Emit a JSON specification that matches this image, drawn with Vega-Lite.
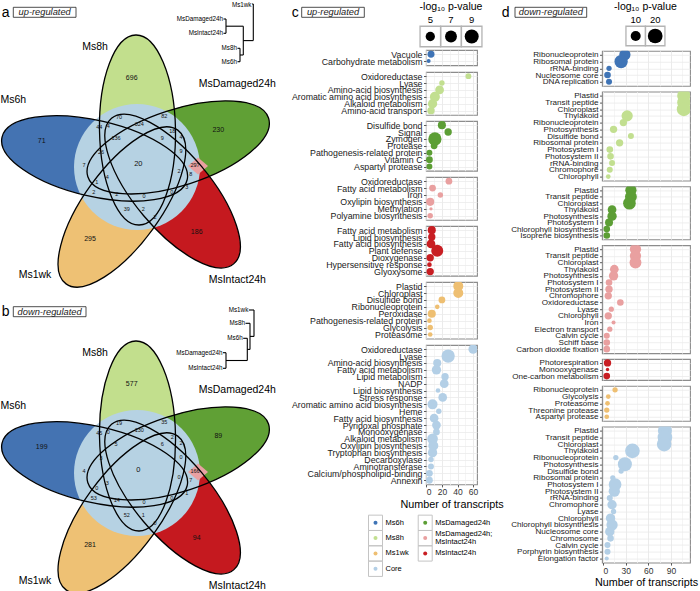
{
"$schema": "https://vega.github.io/schema/vega-lite/v6.json",
"padding": 0,
"background": "white",
"bounds": "flush",
"spacing": 0,
"resolve": {"scale": {"size": "independent"}},
"config": {
  "font": "Liberation Sans",
  "view": {"stroke": null},
  "axis": {"domain": false, "grid": true, "gridColor": "#ebebeb", "gridWidth": 0.8, "tickColor": "#333333", "tickSize": 2.5, "tickWidth": 0.8, "labelColor": "#1a1a1a", "titleFontWeight": "normal", "titleColor": "#000000"},
  "axisY": {"labelPadding": 1.5, "labelOverlap": false, "labelLimit": 400},
  "axisX": {"labelFontSize": 8.5, "labelPadding": 1, "titleFontSize": 10.8, "titlePadding": 2, "labelColor": "#333333"}
},
"datasets": {
  "ell": [
    {"set": "Ms6h", "x": -45.4, "y": -7.6, "ang": 193},
    {"set": "Ms8h", "x": -2.5, "y": -36, "ang": 269},
    {"set": "MsDamaged24h", "x": 38.2, "y": -18.6, "ang": 342},
    {"set": "MsIntact24h", "x": 32.6, "y": 25.1, "ang": 50},
    {"set": "Ms1wk", "x": -18.1, "y": 41, "ang": 126}
  ],
  "core": [{"x": -3, "y": 1}],
  "pink": [{"x": 58, "y": 0}],
  "venn": [
    {"x": -8.3, "y": -87.7, "k": "L", "a": "696", "b": "577"},
    {"x": 78.3, "y": -36, "k": "L", "a": "230", "b": "89"},
    {"x": -98.3, "y": -25.3, "k": "L", "a": "71", "b": "199"},
    {"x": -50, "y": 73.3, "k": "L", "a": "295", "b": "281"},
    {"x": 56.7, "y": 65.7, "k": "L", "a": "186", "b": "94"},
    {"x": -21, "y": -49.3, "k": "I", "a": "70", "b": "19"},
    {"x": 24.3, "y": -50, "k": "I", "a": "82", "b": "35"},
    {"x": -40.7, "y": -38.7, "k": "I", "a": "44", "b": "45"},
    {"x": -31.7, "y": -40, "k": "I", "a": "4", "b": "0"},
    {"x": -0.7, "y": -42, "k": "I", "a": "324", "b": "130"},
    {"x": 32.3, "y": -35, "k": "I", "a": "18", "b": "2"},
    {"x": 41, "y": -29.3, "k": "I", "a": "4", "b": "2"},
    {"x": -24, "y": -27.7, "k": "I", "a": "136", "b": "5"},
    {"x": 22.3, "y": -28.3, "k": "I", "a": "9", "b": "6"},
    {"x": -39, "y": -14.3, "k": "I", "a": "26", "b": "3"},
    {"x": 41, "y": -15, "k": "I", "a": "9", "b": "0"},
    {"x": -56, "y": -1, "k": "I", "a": "7", "b": "4"},
    {"x": -1.7, "y": -2, "k": "C", "a": "20", "b": "0"},
    {"x": 55, "y": -1, "k": "I", "a": "297", "b": "166"},
    {"x": 39, "y": 4.7, "k": "I", "a": "2", "b": "0"},
    {"x": 50.7, "y": 8, "k": "I", "a": "8", "b": "7"},
    {"x": -43.3, "y": 15.7, "k": "I", "a": "1", "b": "0"},
    {"x": -32.7, "y": 11.3, "k": "I", "a": "4", "b": "3"},
    {"x": 46.7, "y": 21.3, "k": "I", "a": "3", "b": "1"},
    {"x": -46.3, "y": 25.7, "k": "I", "a": "2", "b": "53"},
    {"x": -23.3, "y": 28.3, "k": "I", "a": "2", "b": "14"},
    {"x": 4, "y": 29.7, "k": "I", "a": "0", "b": "0"},
    {"x": 31.7, "y": 26.3, "k": "I", "a": "0", "b": "0"},
    {"x": -13.3, "y": 43.3, "k": "I", "a": "39", "b": "52"},
    {"x": 3.3, "y": 43, "k": "I", "a": "2", "b": "1"},
    {"x": 15, "y": 50.7, "k": "I", "a": "2", "b": "0"}
  ],
  "setlab": [
    {"x": -45, "y": -119.3, "t": "Ms8h"},
    {"x": 97.3, "y": -81.7, "t": "MsDamaged24h"},
    {"x": -126.7, "y": -66, "t": "Ms6h"},
    {"x": -105, "y": 109, "t": "Ms1wk"},
    {"x": 97.3, "y": 114, "t": "MsIntact24h"}
  ],
  "dendA": [
    {"x": 112, "y": -162, "x2": 113.3, "y2": -162},
    {"x": 113.3, "y": -162, "x2": 113.3, "y2": -125.4},
    {"x": 83.5, "y": -147, "x2": 86, "y2": -147},
    {"x": 83.5, "y": -132.7, "x2": 86, "y2": -132.7},
    {"x": 86, "y": -147, "x2": 86, "y2": -132.7},
    {"x": 86, "y": -139.8, "x2": 103.3, "y2": -139.8},
    {"x": 97.5, "y": -117.7, "x2": 100, "y2": -117.7},
    {"x": 97.5, "y": -104.3, "x2": 100, "y2": -104.3},
    {"x": 100, "y": -117.7, "x2": 100, "y2": -104.3},
    {"x": 100, "y": -111, "x2": 103.3, "y2": -111},
    {"x": 103.3, "y": -139.8, "x2": 103.3, "y2": -111},
    {"x": 103.3, "y": -125.4, "x2": 113.3, "y2": -125.4}
  ],
  "leafA": [
    {"x": 111.5, "y": -161.5, "t": "Ms1wk"},
    {"x": 83, "y": -147, "t": "MsDamaged24h"},
    {"x": 83, "y": -132.7, "t": "MsIntact24h"},
    {"x": 97, "y": -117.7, "t": "Ms8h"},
    {"x": 97, "y": -104.3, "t": "Ms6h"}
  ],
  "dendB": [
    {"x": 108.8, "y": -162, "x2": 114, "y2": -162},
    {"x": 114, "y": -162, "x2": 114, "y2": -135.6},
    {"x": 105.5, "y": -148.7, "x2": 110, "y2": -148.7},
    {"x": 110, "y": -148.7, "x2": 110, "y2": -122.6},
    {"x": 110, "y": -135.6, "x2": 114, "y2": -135.6},
    {"x": 103.2, "y": -133.7, "x2": 107.3, "y2": -133.7},
    {"x": 107.3, "y": -133.7, "x2": 107.3, "y2": -111.5},
    {"x": 107.3, "y": -122.6, "x2": 110, "y2": -122.6},
    {"x": 83, "y": -119.3, "x2": 86, "y2": -119.3},
    {"x": 83, "y": -103.7, "x2": 86, "y2": -103.7},
    {"x": 86, "y": -119.3, "x2": 86, "y2": -103.7},
    {"x": 86, "y": -111.5, "x2": 107.3, "y2": -111.5}
  ],
  "leafB": [
    {"x": 108.3, "y": -162, "t": "Ms1wk"},
    {"x": 105, "y": -148.7, "t": "Ms8h"},
    {"x": 102.7, "y": -133.7, "t": "Ms6h"},
    {"x": 82.5, "y": -119.3, "t": "MsDamaged24h"},
    {"x": 82.5, "y": -103.7, "t": "MsIntact24h"}
  ],
  "letA": [
    {"x": -138.3, "y": -148.7, "t": "a"},
    {"x": 151.7, "y": -148.7, "t": "c"},
    {"x": 361.7, "y": -148.7, "t": "d"}
  ],
  "boxA": [
    {"x": -126.7, "x2": -64, "y": -158.7, "y2": -148.7},
    {"x": 161.7, "x2": 224.3, "y": -158.7, "y2": -148.7},
    {"x": 375, "x2": 446.7, "y": -158.7, "y2": -148.7}
  ],
  "boxtA": [
    {"x": -95.35, "y": -153.7, "t": "up-regulated"},
    {"x": 193, "y": -153.7, "t": "up-regulated"},
    {"x": 410.85, "y": -153.7, "t": "down-regulated"}
  ],
  "letB": [{"x": -138.3, "y": -156, "t": "b"}],
  "boxB": [{"x": -126.7, "x2": -54, "y": -165.3, "y2": -155.3}],
  "boxtB": [{"x": -90.35, "y": -160.3, "t": "down-regulated"}],
  "legC": [{"v": 5}, {"v": 7}, {"v": 9}],
  "legD": [{"v": 10}, {"v": 20}],
  "colleg": [
    {"g": "Ms6h", "lab": "Ms6h", "col": 0, "row": 0},
    {"g": "Ms8h", "lab": "Ms8h", "col": 0, "row": 1},
    {"g": "Ms1wk", "lab": "Ms1wk", "col": 0, "row": 2},
    {"g": "Core", "lab": "Core", "col": 0, "row": 3},
    {"g": "MsDamaged24h", "lab": "MsDamaged24h", "col": 1, "row": 0},
    {"g": "MsDamaged24h;MsIntact24h", "lab": "MsDamaged24h;\nMsIntact24h", "col": 1, "row": 1},
    {"g": "MsIntact24h", "lab": "MsIntact24h", "col": 1, "row": 2}
  ],
  "c": [
    {"g": "Ms6h", "term": "Vacuole", "n": 6, "p": 3.6},
    {"g": "Ms6h", "term": "Carbohydrate metabolism", "n": 3, "p": 2.4},
    {"g": "Ms8h", "term": "Oxidoreductase", "n": 54, "p": 3.1},
    {"g": "Ms8h", "term": "Lyase", "n": 20, "p": 2.9},
    {"g": "Ms8h", "term": "Amino-acid biosynthesis", "n": 17, "p": 4.6},
    {"g": "Ms8h", "term": "Aromatic amino acid biosynthesis", "n": 11, "p": 5.5},
    {"g": "Ms8h", "term": "Alkaloid metabolism", "n": 8, "p": 5.0},
    {"g": "Ms8h", "term": "Amino-acid transport", "n": 6, "p": 3.8},
    {"g": "MsDamaged24h", "term": "Disulfide bond", "n": 20, "p": 4.2},
    {"g": "MsDamaged24h", "term": "Signal", "n": 28, "p": 3.8},
    {"g": "MsDamaged24h", "term": "Zymogen", "n": 11, "p": 8.3},
    {"g": "MsDamaged24h", "term": "Protease", "n": 10, "p": 3.5},
    {"g": "MsDamaged24h", "term": "Pathogenesis-related protein", "n": 4, "p": 3.1},
    {"g": "MsDamaged24h", "term": "Vitamin C", "n": 4, "p": 3.5},
    {"g": "MsDamaged24h", "term": "Aspartyl protease", "n": 4, "p": 3.1},
    {"g": "MsDamaged24h;MsIntact24h", "term": "Oxidoreductase", "n": 29, "p": 3.5},
    {"g": "MsDamaged24h;MsIntact24h", "term": "Fatty acid metabolism", "n": 8, "p": 3.5},
    {"g": "MsDamaged24h;MsIntact24h", "term": "Iron", "n": 18, "p": 2.9},
    {"g": "MsDamaged24h;MsIntact24h", "term": "Oxylipin biosynthesis", "n": 5, "p": 4.2},
    {"g": "MsDamaged24h;MsIntact24h", "term": "Methylation", "n": 6, "p": 2.2},
    {"g": "MsDamaged24h;MsIntact24h", "term": "Polyamine biosynthesis", "n": 5, "p": 2.9},
    {"g": "MsIntact24h", "term": "Fatty acid metabolism", "n": 7, "p": 4.2},
    {"g": "MsIntact24h", "term": "Lipid biosynthesis", "n": 7, "p": 3.8},
    {"g": "MsIntact24h", "term": "Fatty acid biosynthesis", "n": 6, "p": 4.6},
    {"g": "MsIntact24h", "term": "Plant defense", "n": 14, "p": 7.1},
    {"g": "MsIntact24h", "term": "Dioxygenase", "n": 5, "p": 3.8},
    {"g": "MsIntact24h", "term": "Hypersensitive response", "n": 4, "p": 2.6},
    {"g": "MsIntact24h", "term": "Glyoxysome", "n": 5, "p": 3.8},
    {"g": "Ms1wk", "term": "Plastid", "n": 41, "p": 5.5},
    {"g": "Ms1wk", "term": "Chloroplast", "n": 41, "p": 5.5},
    {"g": "Ms1wk", "term": "Disulfide bond", "n": 20, "p": 3.5},
    {"g": "Ms1wk", "term": "Ribonucleoprotein", "n": 14, "p": 2.6},
    {"g": "Ms1wk", "term": "Peroxidase", "n": 7, "p": 4.2},
    {"g": "Ms1wk", "term": "Pathogenesis-related protein", "n": 4, "p": 2.6},
    {"g": "Ms1wk", "term": "Glycolysis", "n": 5, "p": 2.9},
    {"g": "Ms1wk", "term": "Proteasome", "n": 5, "p": 2.6},
    {"g": "Core", "term": "Oxidoreductase", "n": 60, "p": 5.0},
    {"g": "Core", "term": "Lyase", "n": 28, "p": 8.3},
    {"g": "Core", "term": "Amino-acid biosynthesis", "n": 14, "p": 4.2},
    {"g": "Core", "term": "Fatty acid metabolism", "n": 13, "p": 5.0},
    {"g": "Core", "term": "Lipid metabolism", "n": 24, "p": 3.8},
    {"g": "Core", "term": "NADP", "n": 23, "p": 4.6},
    {"g": "Core", "term": "Lipid biosynthesis", "n": 15, "p": 2.6},
    {"g": "Core", "term": "Stress response", "n": 21, "p": 4.6},
    {"g": "Core", "term": "Aromatic amino acid biosynthesis", "n": 8, "p": 5.5},
    {"g": "Core", "term": "Heme", "n": 16, "p": 2.9},
    {"g": "Core", "term": "Fatty acid biosynthesis", "n": 10, "p": 4.6},
    {"g": "Core", "term": "Pyridoxal phosphate", "n": 13, "p": 4.6},
    {"g": "Core", "term": "Monooxygenase", "n": 13, "p": 3.5},
    {"g": "Core", "term": "Alkaloid metabolism", "n": 8, "p": 6.0},
    {"g": "Core", "term": "Oxylipin biosynthesis", "n": 9, "p": 5.5},
    {"g": "Core", "term": "Tryptophan biosynthesis", "n": 8, "p": 5.0},
    {"g": "Core", "term": "Decarboxylase", "n": 6, "p": 2.9},
    {"g": "Core", "term": "Aminotransferase", "n": 6, "p": 3.1},
    {"g": "Core", "term": "Calcium/phospholipid-binding", "n": 4, "p": 3.5},
    {"g": "Core", "term": "Annexin", "n": 4, "p": 3.5}
  ],
  "d": [
    {"g": "Ms6h", "term": "Ribonucleoprotein", "n": 29, "p": 12.3},
    {"g": "Ms6h", "term": "Ribosomal protein", "n": 24, "p": 16.6},
    {"g": "Ms6h", "term": "rRNA-binding", "n": 8, "p": 3.8},
    {"g": "Ms6h", "term": "Nucleosome core", "n": 6, "p": 5.2},
    {"g": "Ms6h", "term": "DNA replication", "n": 8, "p": 4.5},
    {"g": "Ms8h", "term": "Plastid", "n": 107, "p": 16.6},
    {"g": "Ms8h", "term": "Transit peptide", "n": 107, "p": 16.6},
    {"g": "Ms8h", "term": "Chloroplast", "n": 107, "p": 18.3},
    {"g": "Ms8h", "term": "Thylakoid", "n": 32, "p": 12.3},
    {"g": "Ms8h", "term": "Ribonucleoprotein", "n": 27, "p": 6.0},
    {"g": "Ms8h", "term": "Photosynthesis", "n": 14, "p": 6.0},
    {"g": "Ms8h", "term": "Disulfide bond", "n": 37, "p": 4.5},
    {"g": "Ms8h", "term": "Ribosomal protein", "n": 22, "p": 6.0},
    {"g": "Ms8h", "term": "Photosystem I", "n": 9, "p": 5.2},
    {"g": "Ms8h", "term": "Photosystem II", "n": 10, "p": 5.2},
    {"g": "Ms8h", "term": "rRNA-binding", "n": 12, "p": 4.5},
    {"g": "Ms8h", "term": "Chromophore", "n": 9, "p": 4.5},
    {"g": "Ms8h", "term": "Chlorophyll", "n": 7, "p": 3.3},
    {"g": "MsDamaged24h", "term": "Plastid", "n": 37, "p": 12.3},
    {"g": "MsDamaged24h", "term": "Transit peptide", "n": 37, "p": 13.5},
    {"g": "MsDamaged24h", "term": "Chloroplast", "n": 35, "p": 15.2},
    {"g": "MsDamaged24h", "term": "Thylakoid", "n": 12, "p": 7.9},
    {"g": "MsDamaged24h", "term": "Photosynthesis", "n": 12, "p": 8.9},
    {"g": "MsDamaged24h", "term": "Photosystem I", "n": 8, "p": 6.9},
    {"g": "MsDamaged24h", "term": "Chlorophyll biosynthesis", "n": 5, "p": 5.2},
    {"g": "MsDamaged24h", "term": "Isoprene biosynthesis", "n": 5, "p": 5.2},
    {"g": "MsDamaged24h;MsIntact24h", "term": "Plastid", "n": 43, "p": 12.3},
    {"g": "MsDamaged24h;MsIntact24h", "term": "Transit peptide", "n": 43, "p": 12.3},
    {"g": "MsDamaged24h;MsIntact24h", "term": "Chloroplast", "n": 43, "p": 13.5},
    {"g": "MsDamaged24h;MsIntact24h", "term": "Thylakoid", "n": 15, "p": 7.9},
    {"g": "MsDamaged24h;MsIntact24h", "term": "Photosynthesis", "n": 14, "p": 8.9},
    {"g": "MsDamaged24h;MsIntact24h", "term": "Photosystem I", "n": 8, "p": 5.2},
    {"g": "MsDamaged24h;MsIntact24h", "term": "Photosystem II", "n": 8, "p": 6.0},
    {"g": "MsDamaged24h;MsIntact24h", "term": "Chromophore", "n": 7, "p": 6.0},
    {"g": "MsDamaged24h;MsIntact24h", "term": "Oxidoreductase", "n": 23, "p": 5.2},
    {"g": "MsDamaged24h;MsIntact24h", "term": "Lyase", "n": 11, "p": 3.8},
    {"g": "MsDamaged24h;MsIntact24h", "term": "Chlorophyll", "n": 7, "p": 6.0},
    {"g": "MsDamaged24h;MsIntact24h", "term": "Iron", "n": 14, "p": 2.8},
    {"g": "MsDamaged24h;MsIntact24h", "term": "Electron transport", "n": 9, "p": 3.8},
    {"g": "MsDamaged24h;MsIntact24h", "term": "Calvin cycle", "n": 5, "p": 4.5},
    {"g": "MsDamaged24h;MsIntact24h", "term": "Schiff base", "n": 5, "p": 5.2},
    {"g": "MsDamaged24h;MsIntact24h", "term": "Carbon dioxide fixation", "n": 5, "p": 5.2},
    {"g": "MsIntact24h", "term": "Photorespiration", "n": 6, "p": 6.0},
    {"g": "MsIntact24h", "term": "Monooxygenase", "n": 6, "p": 2.4},
    {"g": "MsIntact24h", "term": "One-carbon metabolism", "n": 5, "p": 5.2},
    {"g": "Ms1wk", "term": "Ribonucleoprotein", "n": 16, "p": 3.8},
    {"g": "Ms1wk", "term": "Glycolysis", "n": 7, "p": 3.3},
    {"g": "Ms1wk", "term": "Proteasome", "n": 6, "p": 3.3},
    {"g": "Ms1wk", "term": "Threonine protease", "n": 5, "p": 3.8},
    {"g": "Ms1wk", "term": "Aspartyl protease", "n": 5, "p": 3.3},
    {"g": "Core", "term": "Plastid", "n": 82, "p": 18.3},
    {"g": "Core", "term": "Transit peptide", "n": 82, "p": 19.9},
    {"g": "Core", "term": "Chloroplast", "n": 81, "p": 19.9},
    {"g": "Core", "term": "Thylakoid", "n": 39, "p": 19.9},
    {"g": "Core", "term": "Ribonucleoprotein", "n": 17, "p": 3.8},
    {"g": "Core", "term": "Photosynthesis", "n": 29, "p": 18.3},
    {"g": "Core", "term": "Disulfide bond", "n": 24, "p": 3.8},
    {"g": "Core", "term": "Ribosomal protein", "n": 13, "p": 3.8},
    {"g": "Core", "term": "Photosystem I", "n": 16, "p": 15.2},
    {"g": "Core", "term": "Photosystem II", "n": 15, "p": 12.3},
    {"g": "Core", "term": "rRNA-binding", "n": 9, "p": 4.5},
    {"g": "Core", "term": "Chromophore", "n": 12, "p": 8.9},
    {"g": "Core", "term": "Lyase", "n": 14, "p": 3.8},
    {"g": "Core", "term": "Chlorophyll", "n": 10, "p": 8.9},
    {"g": "Core", "term": "Chlorophyll biosynthesis", "n": 12, "p": 12.3},
    {"g": "Core", "term": "Nucleosome core", "n": 9, "p": 8.9},
    {"g": "Core", "term": "Chromosome", "n": 10, "p": 5.2},
    {"g": "Core", "term": "Calvin cycle", "n": 6, "p": 4.5},
    {"g": "Core", "term": "Porphyrin biosynthesis", "n": 6, "p": 4.5},
    {"g": "Core", "term": "Elongation factor", "n": 5, "p": 2.8}
  ]
},
"hconcat": [
  {
    "vconcat": [
      {
        "width": 301, "height": 290,
        "view": {"stroke": null},
        "encoding": {
          "x": {"field": "x", "type": "quantitative", "scale": {"domain": [-140, 161], "nice": false, "zero": false}, "axis": null},
          "y": {"field": "y", "type": "quantitative", "scale": {"domain": [-166, 124], "nice": false, "zero": false, "reverse": true}, "axis": null}
        },
        "layer": [
          {"data": {"name": "ell"}, "mark": {"type": "point", "shape": "M 1 0 C 1 0.2209 0.5523 0.4 0 0.4 C -0.5523 0.4 -1 0.2209 -1 0 C -1 -0.2209 -0.5523 -0.4 0 -0.4 C 0.5523 -0.4 1 -0.2209 1 0 Z", "size": 36100, "filled": true, "opacity": 1, "strokeWidth": 0, "clip": true},
           "encoding": {"angle": {"field": "ang", "type": "quantitative", "scale": null},
             "fill": {"field": "set", "type": "nominal", "scale": {"domain": ["Ms6h", "Ms8h", "MsDamaged24h", "MsIntact24h", "Ms1wk"], "range": ["#4473B2", "#C2DF8D", "#60A035", "#C5191F", "#EEC174"]}, "legend": null}}},
          {"data": {"name": "core"}, "mark": {"type": "point", "shape": "circle", "size": 15876, "filled": true, "color": "#B6D2E3", "opacity": 1, "strokeWidth": 0}},
          {"data": {"name": "pink"}, "mark": {"type": "point", "shape": "M -1 0 L 0 -0.85 L 1 0 L 0 0.85 Z", "size": 400, "filled": true, "color": "#E9A1A2", "opacity": 1, "strokeWidth": 0}},
          {"data": {"name": "ell"}, "mark": {"type": "point", "shape": "M 1 0 C 1 0.2209 0.5523 0.4 0 0.4 C -0.5523 0.4 -1 0.2209 -1 0 C -1 -0.2209 -0.5523 -0.4 0 -0.4 C 0.5523 -0.4 1 -0.2209 1 0 Z", "size": 36100, "filled": false, "stroke": "#000000", "strokeWidth": 1.3, "opacity": 1, "clip": true},
           "encoding": {"angle": {"field": "ang", "type": "quantitative", "scale": null}}},
          {"data": {"name": "venn"}, "transform": [{"filter": "datum.k === 'L'"}], "mark": {"type": "text", "fontSize": 7, "color": "#111111"}, "encoding": {"text": {"field": "a"}}},
          {"data": {"name": "venn"}, "transform": [{"filter": "datum.k === 'I'"}], "mark": {"type": "text", "fontSize": 5.5, "color": "#111111"}, "encoding": {"text": {"field": "a"}}},
          {"data": {"name": "venn"}, "transform": [{"filter": "datum.k === 'C'"}], "mark": {"type": "text", "fontSize": 7.5, "color": "#111111"}, "encoding": {"text": {"field": "a"}}},
          {"data": {"name": "setlab"}, "mark": {"type": "text", "fontSize": 10.5, "color": "#000000"}, "encoding": {"text": {"field": "t"}}},
          {"data": {"name": "dendA"}, "mark": {"type": "rule", "strokeWidth": 1.1, "color": "#000000"}, "encoding": {"x2": {"field": "x2"}, "y2": {"field": "y2"}}},
          {"data": {"name": "leafA"}, "mark": {"type": "text", "fontSize": 6.3, "align": "right", "baseline": "middle", "color": "#000000"}, "encoding": {"text": {"field": "t"}}},
          {"data": {"name": "boxA"}, "mark": {"type": "rect", "fill": "white", "stroke": "#222222", "strokeWidth": 0.8}, "encoding": {"x2": {"field": "x2"}, "y2": {"field": "y2"}}},
          {"data": {"name": "boxtA"}, "mark": {"type": "text", "fontSize": 9.3, "fontStyle": "italic", "color": "#222222"}, "encoding": {"text": {"field": "t"}}},
          {"data": {"name": "letA"}, "mark": {"type": "text", "fontSize": 14, "align": "left", "baseline": "alphabetic", "color": "#000000"}, "encoding": {"text": {"field": "t"}}}
        ]
      },
      {
        "width": 301, "height": 301,
        "view": {"stroke": null},
        "encoding": {
          "x": {"field": "x", "type": "quantitative", "scale": {"domain": [-140, 161], "nice": false, "zero": false}, "axis": null},
          "y": {"field": "y", "type": "quantitative", "scale": {"domain": [-182, 119], "nice": false, "zero": false, "reverse": true}, "axis": null}
        },
        "layer": [
          {"data": {"name": "ell"}, "mark": {"type": "point", "shape": "M 1 0 C 1 0.2209 0.5523 0.4 0 0.4 C -0.5523 0.4 -1 0.2209 -1 0 C -1 -0.2209 -0.5523 -0.4 0 -0.4 C 0.5523 -0.4 1 -0.2209 1 0 Z", "size": 36100, "filled": true, "opacity": 1, "strokeWidth": 0, "clip": true},
           "encoding": {"angle": {"field": "ang", "type": "quantitative", "scale": null},
             "fill": {"field": "set", "type": "nominal", "scale": {"domain": ["Ms6h", "Ms8h", "MsDamaged24h", "MsIntact24h", "Ms1wk"], "range": ["#4473B2", "#C2DF8D", "#60A035", "#C5191F", "#EEC174"]}, "legend": null}}},
          {"data": {"name": "core"}, "mark": {"type": "point", "shape": "circle", "size": 15876, "filled": true, "color": "#B6D2E3", "opacity": 1, "strokeWidth": 0}},
          {"data": {"name": "pink"}, "mark": {"type": "point", "shape": "M -1 0 L 0 -0.85 L 1 0 L 0 0.85 Z", "size": 400, "filled": true, "color": "#E9A1A2", "opacity": 1, "strokeWidth": 0}},
          {"data": {"name": "ell"}, "mark": {"type": "point", "shape": "M 1 0 C 1 0.2209 0.5523 0.4 0 0.4 C -0.5523 0.4 -1 0.2209 -1 0 C -1 -0.2209 -0.5523 -0.4 0 -0.4 C 0.5523 -0.4 1 -0.2209 1 0 Z", "size": 36100, "filled": false, "stroke": "#000000", "strokeWidth": 1.3, "opacity": 1, "clip": true},
           "encoding": {"angle": {"field": "ang", "type": "quantitative", "scale": null}}},
          {"data": {"name": "venn"}, "transform": [{"filter": "datum.k === 'L'"}], "mark": {"type": "text", "fontSize": 7, "color": "#111111"}, "encoding": {"text": {"field": "b"}}},
          {"data": {"name": "venn"}, "transform": [{"filter": "datum.k === 'I'"}], "mark": {"type": "text", "fontSize": 5.5, "color": "#111111"}, "encoding": {"text": {"field": "b"}}},
          {"data": {"name": "venn"}, "transform": [{"filter": "datum.k === 'C'"}], "mark": {"type": "text", "fontSize": 7.5, "color": "#111111"}, "encoding": {"text": {"field": "b"}}},
          {"data": {"name": "setlab"}, "mark": {"type": "text", "fontSize": 10.5, "color": "#000000"}, "encoding": {"text": {"field": "t"}}},
          {"data": {"name": "dendB"}, "mark": {"type": "rule", "strokeWidth": 1.1, "color": "#000000"}, "encoding": {"x2": {"field": "x2"}, "y2": {"field": "y2"}}},
          {"data": {"name": "leafB"}, "mark": {"type": "text", "fontSize": 6.3, "align": "right", "baseline": "middle", "color": "#000000"}, "encoding": {"text": {"field": "t"}}},
          {"data": {"name": "boxB"}, "mark": {"type": "rect", "fill": "white", "stroke": "#222222", "strokeWidth": 0.8}, "encoding": {"x2": {"field": "x2"}, "y2": {"field": "y2"}}},
          {"data": {"name": "boxtB"}, "mark": {"type": "text", "fontSize": 9.3, "fontStyle": "italic", "color": "#222222"}, "encoding": {"text": {"field": "t"}}},
          {"data": {"name": "letB"}, "mark": {"type": "text", "fontSize": 14, "align": "left", "baseline": "alphabetic", "color": "#000000"}, "encoding": {"text": {"field": "t"}}}
        ]
      }
    ],
    "spacing": 0,
    "bounds": "flush"
  },
  {"width": 426, "height": 1, "view": {"stroke": null}, "data": {"values": []}, "mark": {"type": "point", "opacity": 0}},
  {
    "vconcat": [
      {
        "width": 51, "height": 44,
        "view": {"stroke": null},
        "layer": [
          {"data": {"name": "legC"}, "mark": {"type": "point", "shape": "square", "size": 420, "filled": false, "stroke": "#b3b3b3", "strokeWidth": 1.3, "opacity": 1},
           "encoding": {"x": {"field": "v", "type": "quantitative", "scale": {"domain": [4.585, 9.512], "nice": false, "zero": false}, "axis": null},
                        "y": {"datum": 36.5, "type": "quantitative", "scale": {"domain": [0, 44], "nice": false, "zero": false, "reverse": true}, "axis": null}}},
          {"data": {"name": "legC"}, "mark": {"type": "circle", "opacity": 1, "color": "#000000"},
           "encoding": {"x": {"field": "v", "type": "quantitative", "scale": {"domain": [4.585, 9.512], "nice": false, "zero": false}, "axis": null},
                        "y": {"datum": 36.5, "type": "quantitative", "scale": {"domain": [0, 44], "nice": false, "zero": false, "reverse": true}, "axis": null},
                        "size": {"field": "v", "type": "quantitative", "scale": {"domain": [2, 10], "range": [5.1, 222.8], "zero": false}, "legend": null}}},
          {"data": {"name": "legC"}, "mark": {"type": "text", "fontSize": 9.5, "color": "#000000"},
           "encoding": {"x": {"field": "v", "type": "quantitative", "scale": {"domain": [4.585, 9.512], "nice": false, "zero": false}, "axis": null},
                        "y": {"datum": 20, "type": "quantitative", "scale": {"domain": [0, 44], "nice": false, "zero": false, "reverse": true}, "axis": null},
                        "text": {"field": "v", "type": "quantitative"}}},
          {"data": {"values": [{"v": 7, "t": "-log₁₀ p-value"}]}, "mark": {"type": "text", "fontSize": 10.5, "color": "#000000"},
           "encoding": {"x": {"field": "v", "type": "quantitative", "scale": {"domain": [4.585, 9.512], "nice": false, "zero": false}, "axis": null},
                        "y": {"datum": 7, "type": "quantitative", "scale": {"domain": [0, 44], "nice": false, "zero": false, "reverse": true}, "axis": null},
                        "text": {"field": "t"}}}
        ]
      },
      {"height": 15.2, "width": 51, "view": {"stroke": "#8c8c8c", "strokeWidth": 1.1},
       "data": {"name": "c"}, "transform": [{"filter": {"field": "g", "equal": "Ms6h"}}],
       "mark": {"type": "circle", "opacity": 1, "clip": true},
       "encoding": {
         "x": {"field": "n", "type": "quantitative", "scale": {"domain": [-0.4, 65], "nice": false, "zero": false}, "axis": {"values": [0, 10, 20, 30, 40, 50, 60], "labels": false, "ticks": false, "title": null, "gridColor": {"condition": {"test": "datum.value % 20 === 0", "value": "#e6e6e6"}, "value": "#f2f2f2"}}},
         "y": {"field": "term", "type": "nominal", "sort": null, "scale": {"type": "point", "padding": 0.6}, "axis": {"labelFontSize": 8.8, "title": null}},
         "size": {"field": "p", "type": "quantitative", "scale": {"domain": [2, 10], "range": [5.1, 222.8], "zero": false}, "legend": null},
         "color": {"field": "g", "type": "nominal", "scale": {"domain": ["Ms6h", "Ms8h", "Ms1wk", "Core", "MsDamaged24h", "MsDamaged24h;MsIntact24h", "MsIntact24h"], "range": ["#3F74B6", "#C2DF90", "#EEBF72", "#B3CFE6", "#5C9E35", "#E9A0A0", "#C81E23"]}, "legend": null}}},
      {"height": 42.8, "width": 51, "view": {"stroke": "#8c8c8c", "strokeWidth": 1.1},
       "data": {"name": "c"}, "transform": [{"filter": {"field": "g", "equal": "Ms8h"}}],
       "mark": {"type": "circle", "opacity": 1, "clip": true},
       "encoding": {
         "x": {"field": "n", "type": "quantitative", "scale": {"domain": [-0.4, 65], "nice": false, "zero": false}, "axis": {"values": [0, 10, 20, 30, 40, 50, 60], "labels": false, "ticks": false, "title": null, "gridColor": {"condition": {"test": "datum.value % 20 === 0", "value": "#e6e6e6"}, "value": "#f2f2f2"}}},
         "y": {"field": "term", "type": "nominal", "sort": null, "scale": {"type": "point", "padding": 0.6}, "axis": {"labelFontSize": 8.8, "title": null}},
         "size": {"field": "p", "type": "quantitative", "scale": {"domain": [2, 10], "range": [5.1, 222.8], "zero": false}, "legend": null},
         "color": {"field": "g", "type": "nominal", "scale": {"domain": ["Ms6h", "Ms8h", "Ms1wk", "Core", "MsDamaged24h", "MsDamaged24h;MsIntact24h", "MsIntact24h"], "range": ["#3F74B6", "#C2DF90", "#EEBF72", "#B3CFE6", "#5C9E35", "#E9A0A0", "#C81E23"]}, "legend": null}}},
      {"height": 49.7, "width": 51, "view": {"stroke": "#8c8c8c", "strokeWidth": 1.1},
       "data": {"name": "c"}, "transform": [{"filter": {"field": "g", "equal": "MsDamaged24h"}}],
       "mark": {"type": "circle", "opacity": 1, "clip": true},
       "encoding": {
         "x": {"field": "n", "type": "quantitative", "scale": {"domain": [-0.4, 65], "nice": false, "zero": false}, "axis": {"values": [0, 10, 20, 30, 40, 50, 60], "labels": false, "ticks": false, "title": null, "gridColor": {"condition": {"test": "datum.value % 20 === 0", "value": "#e6e6e6"}, "value": "#f2f2f2"}}},
         "y": {"field": "term", "type": "nominal", "sort": null, "scale": {"type": "point", "padding": 0.6}, "axis": {"labelFontSize": 8.8, "title": null}},
         "size": {"field": "p", "type": "quantitative", "scale": {"domain": [2, 10], "range": [5.1, 222.8], "zero": false}, "legend": null},
         "color": {"field": "g", "type": "nominal", "scale": {"domain": ["Ms6h", "Ms8h", "Ms1wk", "Core", "MsDamaged24h", "MsDamaged24h;MsIntact24h", "MsIntact24h"], "range": ["#3F74B6", "#C2DF90", "#EEBF72", "#B3CFE6", "#5C9E35", "#E9A0A0", "#C81E23"]}, "legend": null}}},
      {"height": 42.8, "width": 51, "view": {"stroke": "#8c8c8c", "strokeWidth": 1.1},
       "data": {"name": "c"}, "transform": [{"filter": {"field": "g", "equal": "MsDamaged24h;MsIntact24h"}}],
       "mark": {"type": "circle", "opacity": 1, "clip": true},
       "encoding": {
         "x": {"field": "n", "type": "quantitative", "scale": {"domain": [-0.4, 65], "nice": false, "zero": false}, "axis": {"values": [0, 10, 20, 30, 40, 50, 60], "labels": false, "ticks": false, "title": null, "gridColor": {"condition": {"test": "datum.value % 20 === 0", "value": "#e6e6e6"}, "value": "#f2f2f2"}}},
         "y": {"field": "term", "type": "nominal", "sort": null, "scale": {"type": "point", "padding": 0.6}, "axis": {"labelFontSize": 8.8, "title": null}},
         "size": {"field": "p", "type": "quantitative", "scale": {"domain": [2, 10], "range": [5.1, 222.8], "zero": false}, "legend": null},
         "color": {"field": "g", "type": "nominal", "scale": {"domain": ["Ms6h", "Ms8h", "Ms1wk", "Core", "MsDamaged24h", "MsDamaged24h;MsIntact24h", "MsIntact24h"], "range": ["#3F74B6", "#C2DF90", "#EEBF72", "#B3CFE6", "#5C9E35", "#E9A0A0", "#C81E23"]}, "legend": null}}},
      {"height": 49.7, "width": 51, "view": {"stroke": "#8c8c8c", "strokeWidth": 1.1},
       "data": {"name": "c"}, "transform": [{"filter": {"field": "g", "equal": "MsIntact24h"}}],
       "mark": {"type": "circle", "opacity": 1, "clip": true},
       "encoding": {
         "x": {"field": "n", "type": "quantitative", "scale": {"domain": [-0.4, 65], "nice": false, "zero": false}, "axis": {"values": [0, 10, 20, 30, 40, 50, 60], "labels": false, "ticks": false, "title": null, "gridColor": {"condition": {"test": "datum.value % 20 === 0", "value": "#e6e6e6"}, "value": "#f2f2f2"}}},
         "y": {"field": "term", "type": "nominal", "sort": null, "scale": {"type": "point", "padding": 0.6}, "axis": {"labelFontSize": 8.8, "title": null}},
         "size": {"field": "p", "type": "quantitative", "scale": {"domain": [2, 10], "range": [5.1, 222.8], "zero": false}, "legend": null},
         "color": {"field": "g", "type": "nominal", "scale": {"domain": ["Ms6h", "Ms8h", "Ms1wk", "Core", "MsDamaged24h", "MsDamaged24h;MsIntact24h", "MsIntact24h"], "range": ["#3F74B6", "#C2DF90", "#EEBF72", "#B3CFE6", "#5C9E35", "#E9A0A0", "#C81E23"]}, "legend": null}}},
      {"height": 56.6, "width": 51, "view": {"stroke": "#8c8c8c", "strokeWidth": 1.1},
       "data": {"name": "c"}, "transform": [{"filter": {"field": "g", "equal": "Ms1wk"}}],
       "mark": {"type": "circle", "opacity": 1, "clip": true},
       "encoding": {
         "x": {"field": "n", "type": "quantitative", "scale": {"domain": [-0.4, 65], "nice": false, "zero": false}, "axis": {"values": [0, 10, 20, 30, 40, 50, 60], "labels": false, "ticks": false, "title": null, "gridColor": {"condition": {"test": "datum.value % 20 === 0", "value": "#e6e6e6"}, "value": "#f2f2f2"}}},
         "y": {"field": "term", "type": "nominal", "sort": null, "scale": {"type": "point", "padding": 0.6}, "axis": {"labelFontSize": 8.8, "title": null}},
         "size": {"field": "p", "type": "quantitative", "scale": {"domain": [2, 10], "range": [5.1, 222.8], "zero": false}, "legend": null},
         "color": {"field": "g", "type": "nominal", "scale": {"domain": ["Ms6h", "Ms8h", "Ms1wk", "Core", "MsDamaged24h", "MsDamaged24h;MsIntact24h", "MsIntact24h"], "range": ["#3F74B6", "#C2DF90", "#EEBF72", "#B3CFE6", "#5C9E35", "#E9A0A0", "#C81E23"]}, "legend": null}}},
      {"height": 139.4, "width": 51, "view": {"stroke": "#8c8c8c", "strokeWidth": 1.1},
       "data": {"name": "c"}, "transform": [{"filter": {"field": "g", "equal": "Core"}}],
       "mark": {"type": "circle", "opacity": 1, "clip": true},
       "encoding": {
         "x": {"field": "n", "type": "quantitative", "scale": {"domain": [-0.4, 65], "nice": false, "zero": false}, "axis": {"values": [0, 10, 20, 30, 40, 50, 60], "labelExpr": "datum.value % 20 === 0 ? datum.label : ''", "tickOpacity": {"condition": {"test": "datum.value % 20 === 0", "value": 1}, "value": 0}, "title": "Number of transcripts", "gridColor": {"condition": {"test": "datum.value % 20 === 0", "value": "#e6e6e6"}, "value": "#f2f2f2"}}},
         "y": {"field": "term", "type": "nominal", "sort": null, "scale": {"type": "point", "padding": 0.6}, "axis": {"labelFontSize": 8.8, "title": null}},
         "size": {"field": "p", "type": "quantitative", "scale": {"domain": [2, 10], "range": [5.1, 222.8], "zero": false}, "legend": null},
         "color": {"field": "g", "type": "nominal", "scale": {"domain": ["Ms6h", "Ms8h", "Ms1wk", "Core", "MsDamaged24h", "MsDamaged24h;MsIntact24h", "MsIntact24h"], "range": ["#3F74B6", "#C2DF90", "#EEBF72", "#B3CFE6", "#5C9E35", "#E9A0A0", "#C81E23"]}, "legend": null}}},
      {
        "width": 51, "height": 95,
        "view": {"stroke": null},
        "data": {"name": "colleg"},
        "encoding": {
          "x": {"field": "col", "type": "quantitative", "scale": {"domain": [1.016, 2.042], "nice": false, "zero": false}, "axis": null},
          "y": {"field": "row", "type": "quantitative", "scale": {"domain": [-2.076, 4.125], "nice": false, "zero": false, "reverse": true}, "axis": null}
        },
        "layer": [
          {"mark": {"type": "point", "shape": "M -0.915 -1 L 0.915 -1 L 0.915 1 L -0.915 1 Z", "size": 234, "filled": false, "stroke": "#c4c4c4", "strokeWidth": 1, "opacity": 1}},
          {"mark": {"type": "circle", "size": 16, "opacity": 1},
           "encoding": {"color": {"field": "g", "type": "nominal", "scale": {"domain": ["Ms6h", "Ms8h", "Ms1wk", "Core", "MsDamaged24h", "MsDamaged24h;MsIntact24h", "MsIntact24h"], "range": ["#3F74B6", "#C2DF90", "#EEBF72", "#B3CFE6", "#5C9E35", "#E9A0A0", "#C81E23"]}, "legend": null}}},
          {"transform": [{"filter": "!(datum.col === 1 && datum.row === 1)"}],
           "mark": {"type": "text", "align": "left", "baseline": "middle", "dx": 10, "fontSize": 7.5, "color": "#000000"},
           "encoding": {"text": {"field": "lab"}}},
          {"transform": [{"filter": "datum.col === 1 && datum.row === 1"}],
           "mark": {"type": "text", "align": "left", "baseline": "middle", "dx": 10, "dy": -4.3, "fontSize": 7.5, "lineBreak": "\n", "lineHeight": 8.6, "color": "#000000"},
           "encoding": {"text": {"field": "lab"}}}
        ]
      }
    ],
    "spacing": 6,
    "bounds": "flush"
  },
  {"width": 176, "height": 1, "view": {"stroke": null}, "data": {"values": []}, "mark": {"type": "point", "opacity": 0}},
  {
    "vconcat": [
      {
        "width": 88, "height": 44.2,
        "view": {"stroke": null},
        "layer": [
          {"data": {"name": "legD"}, "mark": {"type": "point", "shape": "square", "size": 380, "filled": false, "stroke": "#b3b3b3", "strokeWidth": 1.3, "opacity": 1},
           "encoding": {"x": {"field": "v", "type": "quantitative", "scale": {"domain": [-7.28, 37.85], "nice": false, "zero": false}, "axis": null},
                        "y": {"datum": 36, "type": "quantitative", "scale": {"domain": [0, 44.2], "nice": false, "zero": false, "reverse": true}, "axis": null}}},
          {"data": {"name": "legD"}, "mark": {"type": "circle", "opacity": 1, "color": "#000000"},
           "encoding": {"x": {"field": "v", "type": "quantitative", "scale": {"domain": [-7.28, 37.85], "nice": false, "zero": false}, "axis": null},
                        "y": {"datum": 36, "type": "quantitative", "scale": {"domain": [0, 44.2], "nice": false, "zero": false, "reverse": true}, "axis": null},
                        "size": {"field": "v", "type": "quantitative", "scale": {"domain": [2, 20], "range": [7, 216.4], "zero": false}, "legend": null}}},
          {"data": {"name": "legD"}, "mark": {"type": "text", "fontSize": 9.5, "color": "#000000"},
           "encoding": {"x": {"field": "v", "type": "quantitative", "scale": {"domain": [-7.28, 37.85], "nice": false, "zero": false}, "axis": null},
                        "y": {"datum": 20, "type": "quantitative", "scale": {"domain": [0, 44.2], "nice": false, "zero": false, "reverse": true}, "axis": null},
                        "text": {"field": "v", "type": "quantitative"}}},
          {"data": {"values": [{"v": 15, "t": "-log₁₀ p-value"}]}, "mark": {"type": "text", "fontSize": 10.5, "color": "#000000"},
           "encoding": {"x": {"field": "v", "type": "quantitative", "scale": {"domain": [-7.28, 37.85], "nice": false, "zero": false}, "axis": null},
                        "y": {"datum": 7, "type": "quantitative", "scale": {"domain": [0, 44.2], "nice": false, "zero": false, "reverse": true}, "axis": null},
                        "text": {"field": "t"}}}
        ]
      },
      {"height": 35, "width": 88, "view": {"stroke": "#8c8c8c", "strokeWidth": 1.1},
       "data": {"name": "d"}, "transform": [{"filter": {"field": "g", "equal": "Ms6h"}}],
       "mark": {"type": "circle", "opacity": 1, "clip": true},
       "encoding": {
         "x": {"field": "n", "type": "quantitative", "scale": {"domain": [-1.3, 115.2], "nice": false, "zero": false}, "axis": {"values": [0, 15, 30, 45, 60, 75, 90, 105], "labels": false, "ticks": false, "title": null, "gridColor": {"condition": {"test": "datum.value % 30 === 0", "value": "#e6e6e6"}, "value": "#f2f2f2"}}},
         "y": {"field": "term", "type": "nominal", "sort": null, "scale": {"type": "point", "padding": 0.6}, "axis": {"labelFontSize": 8.1, "title": null}},
         "size": {"field": "p", "type": "quantitative", "scale": {"domain": [2, 20], "range": [7, 216.4], "zero": false}, "legend": null},
         "color": {"field": "g", "type": "nominal", "scale": {"domain": ["Ms6h", "Ms8h", "Ms1wk", "Core", "MsDamaged24h", "MsDamaged24h;MsIntact24h", "MsIntact24h"], "range": ["#3F74B6", "#C2DF90", "#EEBF72", "#B3CFE6", "#5C9E35", "#E9A0A0", "#C81E23"]}, "legend": null}}},
      {"height": 89, "width": 88, "view": {"stroke": "#8c8c8c", "strokeWidth": 1.1},
       "data": {"name": "d"}, "transform": [{"filter": {"field": "g", "equal": "Ms8h"}}],
       "mark": {"type": "circle", "opacity": 1, "clip": true},
       "encoding": {
         "x": {"field": "n", "type": "quantitative", "scale": {"domain": [-1.3, 115.2], "nice": false, "zero": false}, "axis": {"values": [0, 15, 30, 45, 60, 75, 90, 105], "labels": false, "ticks": false, "title": null, "gridColor": {"condition": {"test": "datum.value % 30 === 0", "value": "#e6e6e6"}, "value": "#f2f2f2"}}},
         "y": {"field": "term", "type": "nominal", "sort": null, "scale": {"type": "point", "padding": 0.6}, "axis": {"labelFontSize": 8.1, "title": null}},
         "size": {"field": "p", "type": "quantitative", "scale": {"domain": [2, 20], "range": [7, 216.4], "zero": false}, "legend": null},
         "color": {"field": "g", "type": "nominal", "scale": {"domain": ["Ms6h", "Ms8h", "Ms1wk", "Core", "MsDamaged24h", "MsDamaged24h;MsIntact24h", "MsIntact24h"], "range": ["#3F74B6", "#C2DF90", "#EEBF72", "#B3CFE6", "#5C9E35", "#E9A0A0", "#C81E23"]}, "legend": null}}},
      {"height": 53, "width": 88, "view": {"stroke": "#8c8c8c", "strokeWidth": 1.1},
       "data": {"name": "d"}, "transform": [{"filter": {"field": "g", "equal": "MsDamaged24h"}}],
       "mark": {"type": "circle", "opacity": 1, "clip": true},
       "encoding": {
         "x": {"field": "n", "type": "quantitative", "scale": {"domain": [-1.3, 115.2], "nice": false, "zero": false}, "axis": {"values": [0, 15, 30, 45, 60, 75, 90, 105], "labels": false, "ticks": false, "title": null, "gridColor": {"condition": {"test": "datum.value % 30 === 0", "value": "#e6e6e6"}, "value": "#f2f2f2"}}},
         "y": {"field": "term", "type": "nominal", "sort": null, "scale": {"type": "point", "padding": 0.6}, "axis": {"labelFontSize": 8.1, "title": null}},
         "size": {"field": "p", "type": "quantitative", "scale": {"domain": [2, 20], "range": [7, 216.4], "zero": false}, "legend": null},
         "color": {"field": "g", "type": "nominal", "scale": {"domain": ["Ms6h", "Ms8h", "Ms1wk", "Core", "MsDamaged24h", "MsDamaged24h;MsIntact24h", "MsIntact24h"], "range": ["#3F74B6", "#C2DF90", "#EEBF72", "#B3CFE6", "#5C9E35", "#E9A0A0", "#C81E23"]}, "legend": null}}},
      {"height": 108, "width": 88, "view": {"stroke": "#8c8c8c", "strokeWidth": 1.1},
       "data": {"name": "d"}, "transform": [{"filter": {"field": "g", "equal": "MsDamaged24h;MsIntact24h"}}],
       "mark": {"type": "circle", "opacity": 1, "clip": true},
       "encoding": {
         "x": {"field": "n", "type": "quantitative", "scale": {"domain": [-1.3, 115.2], "nice": false, "zero": false}, "axis": {"values": [0, 15, 30, 45, 60, 75, 90, 105], "labels": false, "ticks": false, "title": null, "gridColor": {"condition": {"test": "datum.value % 30 === 0", "value": "#e6e6e6"}, "value": "#f2f2f2"}}},
         "y": {"field": "term", "type": "nominal", "sort": null, "scale": {"type": "point", "padding": 0.6}, "axis": {"labelFontSize": 8.1, "title": null}},
         "size": {"field": "p", "type": "quantitative", "scale": {"domain": [2, 20], "range": [7, 216.4], "zero": false}, "legend": null},
         "color": {"field": "g", "type": "nominal", "scale": {"domain": ["Ms6h", "Ms8h", "Ms1wk", "Core", "MsDamaged24h", "MsDamaged24h;MsIntact24h", "MsIntact24h"], "range": ["#3F74B6", "#C2DF90", "#EEBF72", "#B3CFE6", "#5C9E35", "#E9A0A0", "#C81E23"]}, "legend": null}}},
      {"height": 21, "width": 88, "view": {"stroke": "#8c8c8c", "strokeWidth": 1.1},
       "data": {"name": "d"}, "transform": [{"filter": {"field": "g", "equal": "MsIntact24h"}}],
       "mark": {"type": "circle", "opacity": 1, "clip": true},
       "encoding": {
         "x": {"field": "n", "type": "quantitative", "scale": {"domain": [-1.3, 115.2], "nice": false, "zero": false}, "axis": {"values": [0, 15, 30, 45, 60, 75, 90, 105], "labels": false, "ticks": false, "title": null, "gridColor": {"condition": {"test": "datum.value % 30 === 0", "value": "#e6e6e6"}, "value": "#f2f2f2"}}},
         "y": {"field": "term", "type": "nominal", "sort": null, "scale": {"type": "point", "padding": 0.6}, "axis": {"labelFontSize": 8.1, "title": null}},
         "size": {"field": "p", "type": "quantitative", "scale": {"domain": [2, 20], "range": [7, 216.4], "zero": false}, "legend": null},
         "color": {"field": "g", "type": "nominal", "scale": {"domain": ["Ms6h", "Ms8h", "Ms1wk", "Core", "MsDamaged24h", "MsDamaged24h;MsIntact24h", "MsIntact24h"], "range": ["#3F74B6", "#C2DF90", "#EEBF72", "#B3CFE6", "#5C9E35", "#E9A0A0", "#C81E23"]}, "legend": null}}},
      {"height": 35, "width": 88, "view": {"stroke": "#8c8c8c", "strokeWidth": 1.1},
       "data": {"name": "d"}, "transform": [{"filter": {"field": "g", "equal": "Ms1wk"}}],
       "mark": {"type": "circle", "opacity": 1, "clip": true},
       "encoding": {
         "x": {"field": "n", "type": "quantitative", "scale": {"domain": [-1.3, 115.2], "nice": false, "zero": false}, "axis": {"values": [0, 15, 30, 45, 60, 75, 90, 105], "labels": false, "ticks": false, "title": null, "gridColor": {"condition": {"test": "datum.value % 30 === 0", "value": "#e6e6e6"}, "value": "#f2f2f2"}}},
         "y": {"field": "term", "type": "nominal", "sort": null, "scale": {"type": "point", "padding": 0.6}, "axis": {"labelFontSize": 8.1, "title": null}},
         "size": {"field": "p", "type": "quantitative", "scale": {"domain": [2, 20], "range": [7, 216.4], "zero": false}, "legend": null},
         "color": {"field": "g", "type": "nominal", "scale": {"domain": ["Ms6h", "Ms8h", "Ms1wk", "Core", "MsDamaged24h", "MsDamaged24h;MsIntact24h", "MsIntact24h"], "range": ["#3F74B6", "#C2DF90", "#EEBF72", "#B3CFE6", "#5C9E35", "#E9A0A0", "#C81E23"]}, "legend": null}}},
      {"height": 136, "width": 88, "view": {"stroke": "#8c8c8c", "strokeWidth": 1.1},
       "data": {"name": "d"}, "transform": [{"filter": {"field": "g", "equal": "Core"}}],
       "mark": {"type": "circle", "opacity": 1, "clip": true},
       "encoding": {
         "x": {"field": "n", "type": "quantitative", "scale": {"domain": [-1.3, 115.2], "nice": false, "zero": false}, "axis": {"values": [0, 15, 30, 45, 60, 75, 90, 105], "labelExpr": "datum.value % 30 === 0 ? datum.label : ''", "tickOpacity": {"condition": {"test": "datum.value % 30 === 0", "value": 1}, "value": 0}, "title": "Number of transcripts", "gridColor": {"condition": {"test": "datum.value % 30 === 0", "value": "#e6e6e6"}, "value": "#f2f2f2"}}},
         "y": {"field": "term", "type": "nominal", "sort": null, "scale": {"type": "point", "padding": 0.6}, "axis": {"labelFontSize": 8.1, "title": null}},
         "size": {"field": "p", "type": "quantitative", "scale": {"domain": [2, 20], "range": [7, 216.4], "zero": false}, "legend": null},
         "color": {"field": "g", "type": "nominal", "scale": {"domain": ["Ms6h", "Ms8h", "Ms1wk", "Core", "MsDamaged24h", "MsDamaged24h;MsIntact24h", "MsIntact24h"], "range": ["#3F74B6", "#C2DF90", "#EEBF72", "#B3CFE6", "#5C9E35", "#E9A0A0", "#C81E23"]}, "legend": null}}}
    ],
    "spacing": 5.8,
    "bounds": "flush"
  }
]
}
